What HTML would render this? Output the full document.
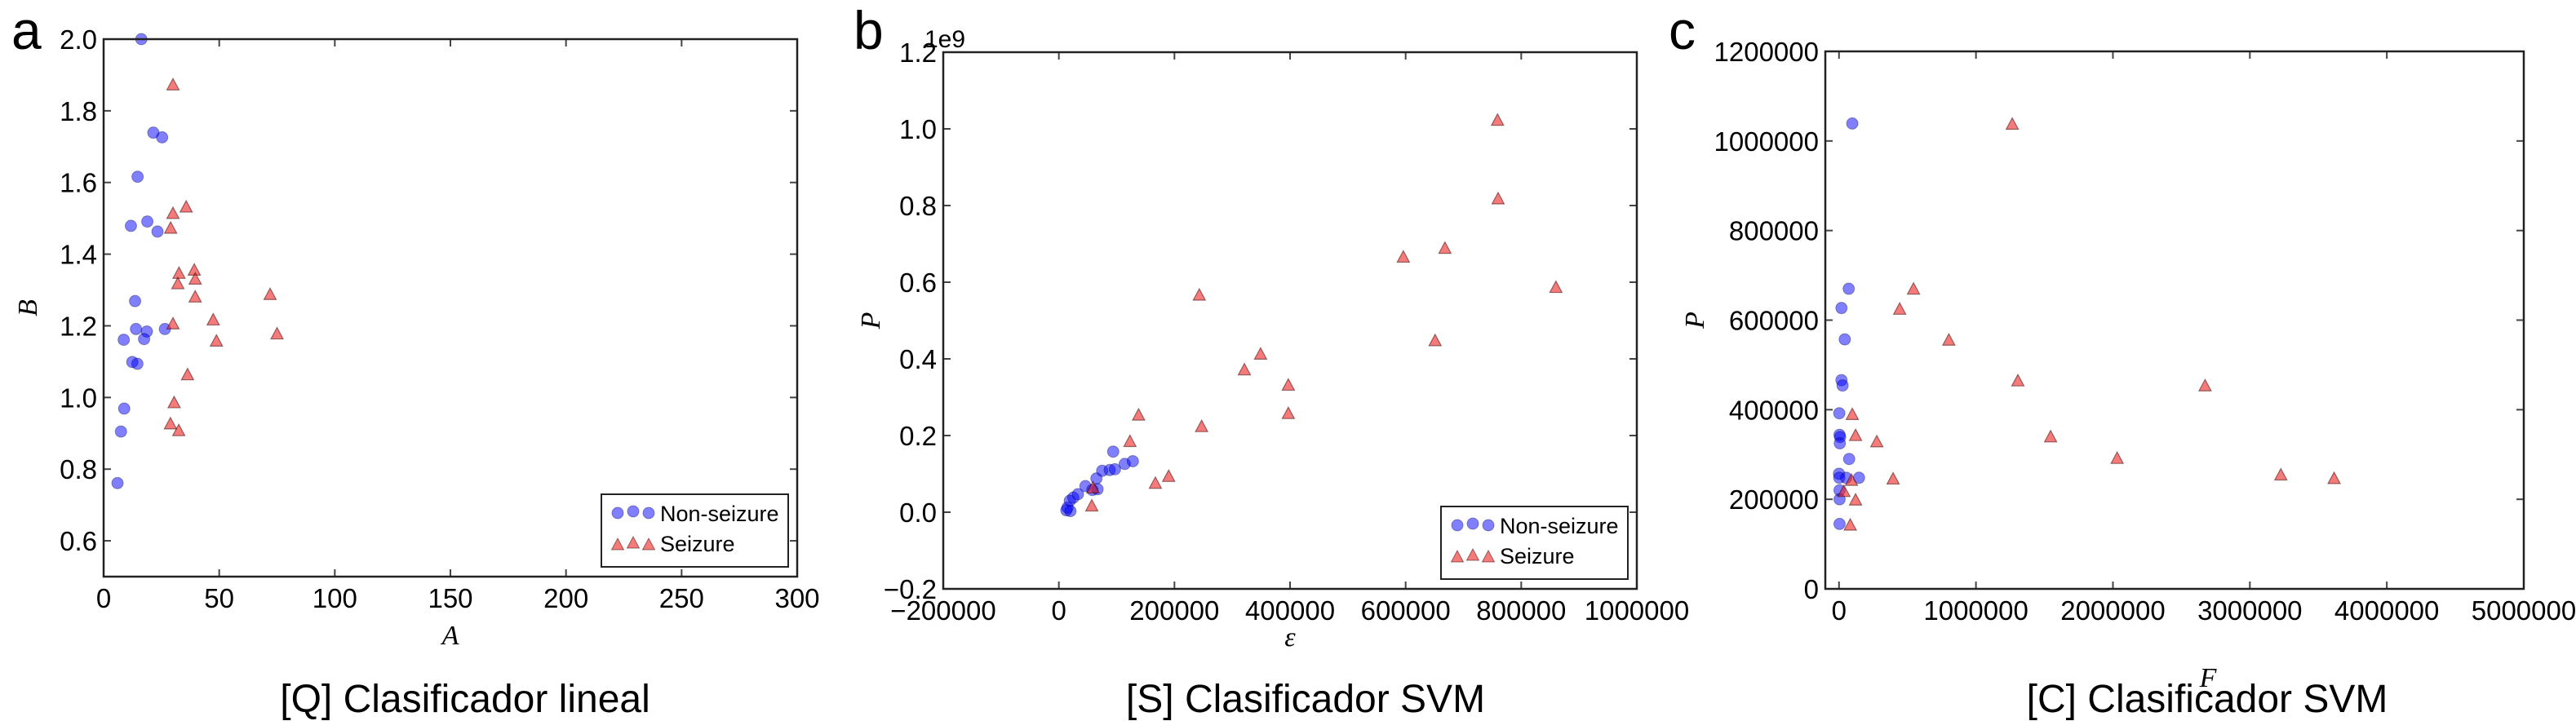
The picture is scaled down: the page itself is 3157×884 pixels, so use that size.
<!DOCTYPE html>
<html><head><meta charset="utf-8"><style>
html,body{margin:0;padding:0;background:#fff;}
svg{display:block;font-family:"Liberation Sans",sans-serif;}
</style></head><body>
<svg id="fig" width="3157" height="884" viewBox="0 0 3157 884" xmlns="http://www.w3.org/2000/svg">
<rect width="3157" height="884" fill="#fff"/>
<text x="14" y="60" font-size="66">a</text>
<text x="1046" y="60" font-size="66">b</text>
<text x="2045" y="60" font-size="66">c</text>
<text x="570" y="873" font-size="48" text-anchor="middle">[Q] Clasificador lineal</text>
<text x="1600" y="873" font-size="48" text-anchor="middle">[S] Clasificador SVM</text>
<text x="2705" y="873" font-size="48" text-anchor="middle">[C] Clasificador SVM</text>
<g id="layer"></g>
</svg>
<script>
// Panel a data
const aNonX = [16.3,21.5,25.3,14.7,11.8,18.9,23.3,13.6,14.0,18.7,26.5,8.7,17.5,12.4,14.6,8.9,7.5,6.0];
const aNonY = [2.0,1.739,1.726,1.616,1.479,1.491,1.463,1.269,1.191,1.184,1.191,1.161,1.163,1.099,1.094,0.969,0.905,0.761];
const aSzX = [30,35.7,30,29,39.2,32.6,39.6,32.1,39.6,72,47.4,30,75,48.8,36.3,30.5,28.9,32.5];
const aSzY = [1.872,1.531,1.513,1.472,1.355,1.346,1.330,1.317,1.280,1.287,1.216,1.205,1.177,1.157,1.063,0.985,0.926,0.907];
const aXTicks = [0,50,100,150,200,250,300];
const aYTicks = [0.6,0.8,1.0,1.2,1.4,1.6,1.8,2.0];
// Panel b data (P in units of 1e9)
const bNonX = [13000,20000,15000,19000,25000,33000,46000,58000,65000,67000,75000,88000,97000,94000,114000,128000];
const bNonY = [0.005,0.003,0.012,0.030,0.038,0.047,0.068,0.058,0.088,0.060,0.108,0.110,0.112,0.158,0.126,0.133];
const bSzX = [57000,59000,123000,138000,167000,190000,243000,247000,321000,349000,397000,397000,596000,651000,668000,759000,760000,860000];
const bSzY = [0.016,0.063,0.184,0.253,0.075,0.093,0.566,0.223,0.371,0.412,0.331,0.257,0.665,0.447,0.688,1.022,0.817,0.586];
const bXTicks = [-200000,0,200000,400000,600000,800000,1000000];
const bYTicks = [-0.2,0.0,0.2,0.4,0.6,0.8,1.0,1.2];
// Panel c data
const cNonX = [97000,71000,18000,42000,18000,26000,2000,4000,8000,6000,74000,0,2000,52000,146000,4000,4000,4000];
const cNonY = [1039000,670000,627000,557000,466000,454000,392000,344000,339000,325000,290000,257000,248000,248000,248000,220000,200000,145000];
const cSzX = [1265000,544000,443000,802000,1306000,97000,121000,276000,1545000,395000,91000,36000,121000,82000,2673000,2031000,3226000,3615000];
const cSzY = [1037000,669000,624000,555000,464000,389000,342000,328000,339000,245000,242000,217000,198000,142000,453000,291000,254000,246000];
const cXTicks = [0,1000000,2000000,3000000,4000000,5000000];
const cYTicks = [0,200000,400000,600000,800000,1000000,1200000];

const NS = "http://www.w3.org/2000/svg";
const layer = document.getElementById('layer');
function mk(tag, attrs, parent){ const e=document.createElementNS(NS,tag); for(const k in attrs) e.setAttribute(k,attrs[k]); (parent||layer).appendChild(e); return e; }
function lin(d0,d1,r0,r1){ return v => r0 + (v-d0)/(d1-d0)*(r1-r0); }
function fmt(v,dec){ let s = dec ? v.toFixed(dec) : String(v); return s.replace('-','\u2212'); }

function panel(p){
  const g = mk('g',{});
  
  
  const sx = lin(p.xd[0],p.xd[1],p.L,p.R), sy = lin(p.yd[0],p.yd[1],p.B,p.T);
  // ticks
  p.xt.forEach(v=>{
    const x=sx(v);
    mk('line',{x1:x,x2:x,y1:p.B,y2:p.B-9,stroke:'#444','stroke-width':2},g);
    mk('line',{x1:x,x2:x,y1:p.T,y2:p.T+9,stroke:'#444','stroke-width':2},g);
    const t=mk('text',{x:x,y:p.B+38,'font-size':33,'text-anchor':'middle'},g);
    t.textContent=fmt(v,p.xdec);
    
    
  });
  p.yt.forEach(v=>{
    const y=sy(v);
    mk('line',{x1:p.L,x2:p.L+9,y1:y,y2:y,stroke:'#444','stroke-width':2},g);
    mk('line',{x1:p.R,x2:p.R-9,y1:y,y2:y,stroke:'#444','stroke-width':2},g);
    const t=mk('text',{x:p.L-8,y:y+12,'font-size':33,'text-anchor':'end'},g);
    t.textContent=fmt(v,p.ydec);
    
    
  });
  // markers
  p.nx.forEach((v,i)=>{
    const c=mk('circle',{cx:sx(v),cy:sy(p.ny[i]),r:7,fill:'#0000ff','fill-opacity':0.5,stroke:'#000033','stroke-opacity':0.35,'stroke-width':1},g);
    
    
  });
  p.sx.forEach((v,i)=>{
    const x=sx(v), y=sy(p.sy[i]);
    const t=mk('polygon',{points:`${x},${y-8} ${x-7.5},${y+6} ${x+7.5},${y+6}`,fill:'#ee2222','fill-opacity':0.6,stroke:'#330000','stroke-opacity':0.5,'stroke-width':1.2},g);
    
    
  });
  const fr=mk('rect',{x:p.L,y:p.T,width:p.R-p.L,height:p.B-p.T,fill:'none',stroke:'#222','stroke-width':2.5},g);
  
  
  // axis labels
  const xl=mk('text',{x:p.xlx,y:p.xly,'font-size':34,'font-style':'italic','font-family':'"Liberation Serif",serif','text-anchor':'middle'},g);
  xl.textContent=p.xlab;
  
  
  const yl=mk('text',{x:0,y:0,'font-size':34,'font-style':'italic','font-family':'"Liberation Serif",serif','text-anchor':'middle',transform:`translate(${p.ylx},${(p.T+p.B)/2}) rotate(-90)`},g);
  yl.textContent=p.ylab;
  
  
  if(p.legend){
    const lx=p.R-240, ly=p.B-101;
    const lg=mk('g',{},g);
    
    
    mk('rect',{x:lx,y:ly,width:229,height:89,fill:'#fff',stroke:'#222','stroke-width':2},lg);
    [0,1,2].forEach(k=>{
      mk('circle',{cx:lx+20+k*19,cy:ly+23+(k==1?-2:0),r:7,fill:'#0000ff','fill-opacity':0.5,stroke:'#000033','stroke-opacity':0.35},lg);
      const x=lx+20+k*19, y=ly+62+(k==1?-2:0);
      mk('polygon',{points:`${x},${y-8} ${x-7.5},${y+6} ${x+7.5},${y+6}`,fill:'#ee2222','fill-opacity':0.6,stroke:'#330000','stroke-opacity':0.5},lg);
    });
    const t1=mk('text',{x:lx+72,y:ly+33,'font-size':27},lg); t1.textContent='Non-seizure';
    
    
    const t2=mk('text',{x:lx+72,y:ly+70,'font-size':27},lg); t2.textContent='Seizure';
    
    
  }
}
panel({name:'panel-a',L:127,R:977,T:48,B:707,xd:[0,300],yd:[0.5,2.0],xt:aXTicks,yt:aYTicks,ydec:1,
  nx:aNonX,ny:aNonY,sx:aSzX,sy:aSzY,xlab:'A',xlx:552,xly:790,ylab:'B',ylx:45,legend:true});
panel({name:'panel-b',L:1156,R:2006,T:64,B:722,xd:[-200000,1000000],yd:[-0.2,1.2],xt:bXTicks,yt:bYTicks,ydec:1,
  nx:bNonX,ny:bNonY,sx:bSzX,sy:bSzY,xlab:'\u03b5',xlx:1581,xly:792,ylab:'P',ylx:1078,legend:true});
panel({name:'panel-c',L:2237,R:3093,T:63,B:722,xd:[-100000,5000000],yd:[0,1200000],xt:cXTicks,yt:cYTicks,
  nx:cNonX,ny:cNonY,sx:cSzX,sy:cSzY,xlab:'F',xlx:2706,xly:842,ylab:'P',ylx:2088,legend:false});
const e9=mk('text',{x:1133,y:58,'font-size':30});
e9.textContent='1e9';


</script>
</body></html>
